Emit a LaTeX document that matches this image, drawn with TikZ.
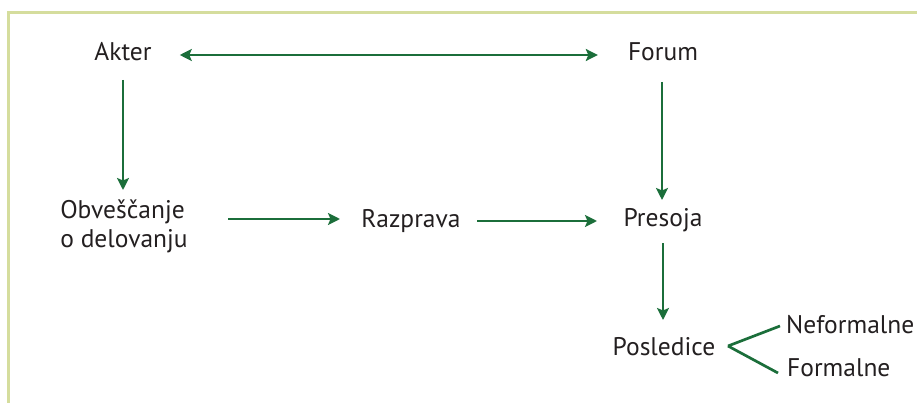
\documentclass[tikz,border=0pt]{standalone}
\usepackage{fontspec}
\setmainfont{PT Sans}
\usetikzlibrary{arrows.meta}
\definecolor{arrgreen}{HTML}{1B6E3A}
\definecolor{txtgray}{HTML}{231F20}
\definecolor{framecol}{HTML}{D5DD9D}
\tikzset{
  lbl/.style={inner sep=0pt, text=txtgray, font=\fontsize{25.5}{29}\selectfont},
  arr/.style={draw=arrgreen, line width=2.7pt, -{Stealth[length=12pt,width=12pt,inset=2.5pt]}},
  darr/.style={draw=arrgreen, line width=2.7pt, {Stealth[length=12pt,width=12pt,inset=2.5pt]}-{Stealth[length=12pt,width=12pt,inset=2.5pt]}},
  brl/.style={draw=arrgreen, line width=2.7pt},
  framel/.style={draw=framecol, line width=3pt}
}
\begin{document}
\begin{tikzpicture}[x=1pt,y=-1pt]
\useasboundingbox (0,0) rectangle (917,403);
\draw[framel] (8,404) -- (8,13) -- (918,13);
\node[lbl] (akter) at (123,52) {Akter};
\node[lbl] (forum) at (663,52) {Forum};
\node[lbl, align=left] (obv) at (124,226) {Obveščanje\\o delovanju};
\node[lbl] (razp) at (411,221) {Razprava};
\node[lbl] (pres) at (663,220) {Presoja};
\node[lbl] (posl) at (664,347) {Posledice};
\node[lbl, anchor=west] (nef) at (786,325) {Neformalne};
\node[lbl, anchor=west] (form) at (787,368) {Formalne};
\draw[darr, shorten <=28pt, shorten >=30pt] (akter.east |- 0,55) -- (forum.west |- 0,55);
\draw[arr] (123,80) -- (123,190);
\draw[arr] (662,82) -- (662,200);
\draw[arr] (228,219) -- (340,219);
\draw[arr] (477,221) -- (597,221);
\draw[arr] (663,243) -- (663,320);
\coordinate (bp) at (728,346);
\draw[brl] (bp) -- (780,326);
\draw[brl] (bp) -- (778,373);
\end{tikzpicture}
\end{document}
